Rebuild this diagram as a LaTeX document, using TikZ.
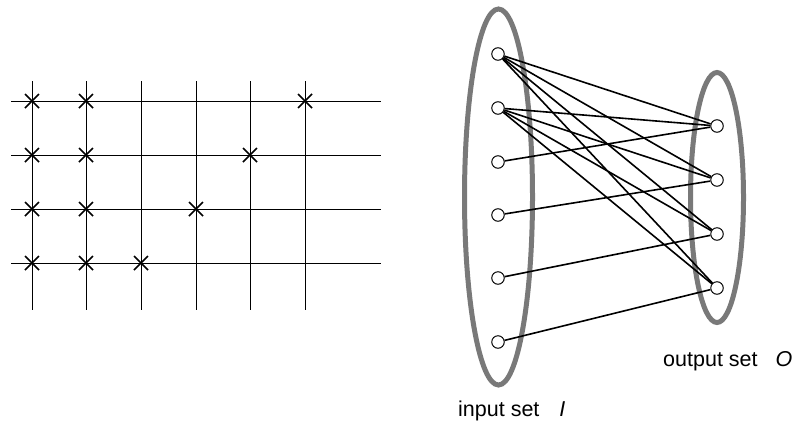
\documentclass[tikz,border=0pt]{standalone}
\usepackage{fontspec}
\setmainfont{Liberation Sans}
\begin{document}
\begin{tikzpicture}[x=1pt,y=-1pt,
  gridline/.style={line width=1pt,black},
  xmark/.style={line width=1.7pt,black},
  setellipse/.style={draw=gray!95!black,line width=5pt},
  vtx/.style={circle,draw=black,fill=white,line width=1pt,minimum size=12.5pt,inner sep=0pt},
  edge/.style={line width=1.6pt,black},
  lbl/.style={font=\fontsize{21.5}{26}\selectfont,inner sep=0pt,anchor=base west}]
\useasboundingbox (0,0) rectangle (802,426);
% crossbar
\foreach \y in {101,155,209,263} \draw[gridline] (11,\y) -- (381,\y);
\foreach \x in {32,86,141,196,250,305} \draw[gridline] (\x,81) -- (\x,310);
\foreach \x/\y in {32/101,86/101,305/101,32/155,86/155,250/155,32/209,86/209,196/209,32/263,86/263,141/263}
  \draw[xmark] (\x-7,\y-7) -- (\x+7,\y+7) (\x-7,\y+7) -- (\x+7,\y-7);
% sets
\draw[setellipse] (498.5,197) ellipse [x radius=34, y radius=188];
\draw[setellipse] (717,197.5) ellipse [x radius=26.5, y radius=125];
% vertices
\foreach \i/\y in {1/54,2/108,3/162,4/215,5/278,6/342} \node[vtx] (i\i) at (498,\y) {};
\foreach \j/\y in {1/126,2/180,3/234,4/288} \node[vtx] (o\j) at (717,\y) {};
% edges
\foreach \j in {1,2,3,4} {\draw[edge] (i1) -- (o\j); \draw[edge] (i2) -- (o\j);}
\draw[edge] (i3) -- (o1);
\draw[edge] (i4) -- (o2);
\draw[edge] (i5) -- (o3);
\draw[edge] (i6) -- (o4);
% labels
\node[lbl] (lo) at (663,366) {output set\hspace{18pt}\textit{O}};
\node[lbl] (li) at (458,416) {input set\hspace{20pt}\textit{I}};
\end{tikzpicture}
\end{document}
